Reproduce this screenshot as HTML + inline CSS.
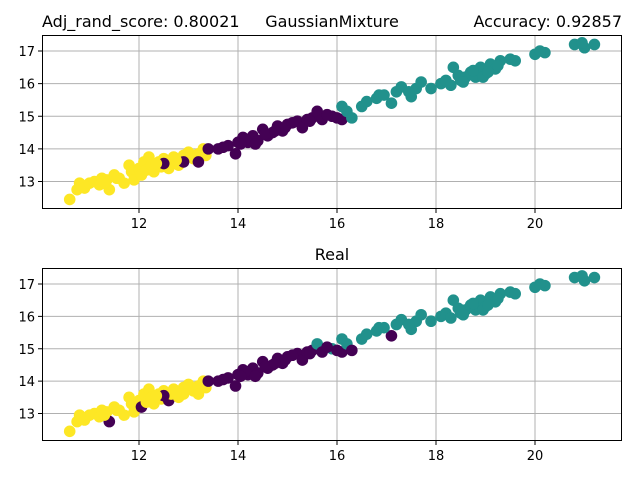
<!DOCTYPE html>
<html><head><meta charset="utf-8"><style>
body{margin:0;background:#fff}
svg text{font-family:"DejaVu Sans","Liberation Sans",sans-serif;fill:#000}
</style></head><body>
<svg id="chart" width="640" height="480" xmlns="http://www.w3.org/2000/svg">
<rect width="640" height="480" fill="#fff"/>
<text x="42" y="27" font-size="16">Adj_rand_score: 0.80021</text>
<text x="332" y="27" font-size="16" text-anchor="middle">GaussianMixture</text>
<text x="622" y="27" font-size="16" text-anchor="end">Accuracy: 0.92857</text>
<text x="332" y="260" font-size="16" text-anchor="middle">Real</text>
<g id="p1"></g>
<g id="p2"></g>
</svg>
<script>
const xs=[10.6,10.75,10.8,10.9,11.0,11.1,11.2,11.25,11.35,11.4,11.5,11.6,11.7,11.8,11.85,11.9,12.0,12.05,12.1,12.15,12.2,12.25,12.3,12.4,12.45,12.5,12.6,12.65,12.7,12.8,12.9,13.0,13.1,13.2,13.3,13.35,
12.5,12.9,13.2,13.4,13.6,13.8,13.95,14.0,14.1,14.2,14.3,14.4,14.5,14.6,14.7,14.8,14.9,15.0,15.2,15.3,15.4,15.5,15.6,15.7,15.9,16.0,16.1,
16.1,16.2,16.3,16.5,16.6,16.8,16.85,17.1,17.2,17.3,17.5,17.6,17.7,17.9,18.1,18.2,18.3,18.35,18.5,18.6,18.7,18.8,18.9,19.0,19.1,19.2,19.3,19.5,19.6,20.0,20.2,20.1,20.8,21.0,21.2,20.95,
14.15,14.35,14.55,14.95,15.1,15.45,15.8,13.7,14.05,14.75,18.45,18.75,18.95,19.05,19.25,18.55,17.45,16.95,11.3,11.55,12.35,12.75];
const ys=[12.45,12.75,12.95,12.8,12.95,13.0,12.9,13.1,13.05,12.75,13.2,13.1,12.95,13.5,13.3,13.05,13.4,13.2,13.6,13.35,13.75,13.5,13.3,13.6,13.45,13.7,13.4,13.6,13.75,13.5,13.8,13.9,13.7,13.85,14.0,13.8,
13.55,13.6,13.6,14.0,14.0,14.1,13.85,14.2,14.35,14.2,14.4,14.25,14.6,14.4,14.5,14.7,14.55,14.75,14.85,14.65,14.9,14.95,15.15,14.9,15.0,14.95,14.9,
15.3,15.15,14.95,15.3,15.45,15.55,15.65,15.4,15.75,15.9,15.6,15.85,16.05,15.85,16.0,16.1,15.95,16.5,16.1,16.2,16.35,16.2,16.5,16.3,16.6,16.45,16.7,16.75,16.7,16.9,16.95,17.0,17.2,17.1,17.2,17.25,
14.3,14.15,14.45,14.65,14.8,14.85,15.05,14.05,14.15,14.55,16.25,16.4,16.2,16.35,16.55,16.05,15.75,15.65,12.95,13.1,13.55,13.65];
const predicted=[2,2,2,2,2,2,2,2,2,2,2,2,2,2,2,2,2,2,2,2,2,2,2,2,2,2,2,2,2,2,2,2,2,2,2,2,
0,0,0,0,0,0,0,0,0,0,0,0,0,0,0,0,0,0,0,0,0,0,0,0,0,0,0,
1,1,1,1,1,1,1,1,1,1,1,1,1,1,1,1,1,1,1,1,1,1,1,1,1,1,1,1,1,1,1,1,1,1,1,1,
0,0,0,0,0,0,0,0,0,0,1,1,1,1,1,1,1,1,2,2,2,2];
const real=[2,2,2,2,2,2,2,2,2,0,2,2,2,2,2,2,2,0,2,2,2,2,2,2,2,2,0,2,2,2,2,2,2,2,2,2,
0,2,2,0,0,0,0,0,0,0,0,0,0,0,0,0,0,0,0,0,0,0,1,0,1,0,0,
1,1,0,1,1,1,1,0,1,1,1,1,1,1,1,1,1,1,1,1,1,1,1,1,1,1,1,1,1,1,1,1,1,1,1,1,
0,0,0,0,0,0,0,0,0,0,1,1,1,1,1,1,1,1,2,2,2,2];
const xTicks=[12,14,16,18,20];
const yTicks=[13,14,15,16,17];
const colors=['#440154','#21918c','#fde725'];
const NS='http://www.w3.org/2000/svg';
function mk(t,a,p){const e=document.createElementNS(NS,t);for(const k in a)e.setAttribute(k,a[k]);p.appendChild(e);return e;}
function panel(g,top,bot,labels){
  const L=42,R=622;
  const sx=v=>139+(v-12)*49.5;
  const y13=bot-27.5,y17=top+16;
  const sy=v=>y13-(v-13)*((y13-y17)/4);
  xTicks.forEach(t=>{
    const l=mk('line',{x1:sx(t),x2:sx(t),y1:top,y2:bot,stroke:'#b0b0b0','stroke-width':1},g);
    
    
    mk('line',{x1:sx(t),x2:sx(t),y1:bot,y2:bot+4,stroke:'#000'},g);
    const tx=mk('text',{x:sx(t),y:bot+19,'font-size':13,'text-anchor':'middle'},g);tx.textContent=t;
    
    
  });
  yTicks.forEach(t=>{
    const l=mk('line',{x1:L,x2:R,y1:sy(t),y2:sy(t),stroke:'#b0b0b0','stroke-width':1},g);
    
    
    mk('line',{x1:L-4,x2:L,y1:sy(t),y2:sy(t),stroke:'#000'},g);
    const tx=mk('text',{x:L-7,y:sy(t)+5,'font-size':13,'text-anchor':'end'},g);tx.textContent=t;
    
    
  });
  xs.forEach((x,i)=>{
    const c=mk('circle',{cx:sx(x),cy:sy(ys[i]),r:5.8,fill:colors[labels[i]]},g);
    
    
  });
  const f=mk('rect',{x:L+0.5,y:top+0.5,width:R-L-1,height:bot-top-1,fill:'none',stroke:'#000','stroke-width':1},g);
  
  
}
panel(document.getElementById('p1'),35,209,predicted);
panel(document.getElementById('p2'),268,441,real);
</script>
</body></html>
